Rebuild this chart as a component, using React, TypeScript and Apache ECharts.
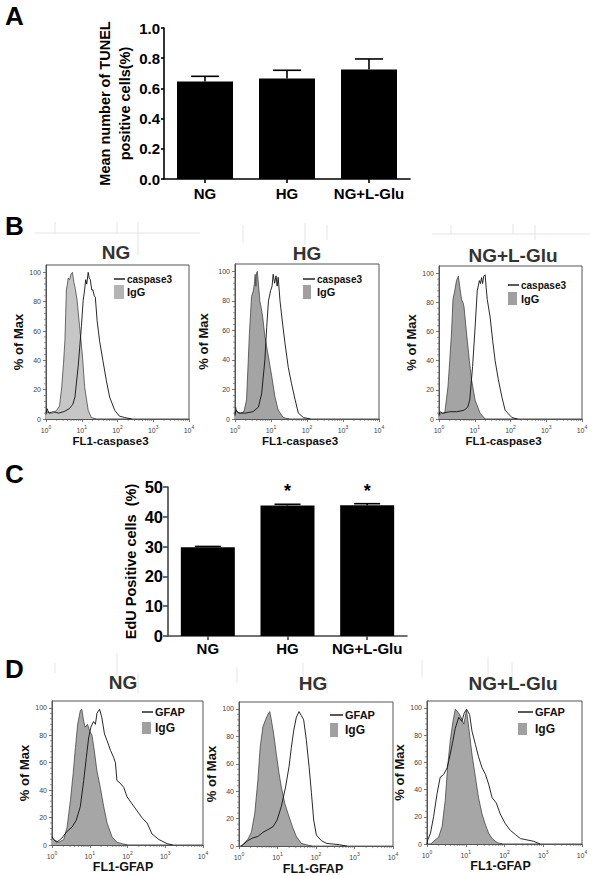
import React, { useEffect, useRef } from 'react';
import * as echarts from 'echarts';

const FONT = '"Liberation Sans", Arial, Helvetica, sans-serif';

// ---------- bar data ----------
const GROUPS = ['NG', 'HG', 'NG+L-Glu'];
const TUNEL_MEAN = [0.645, 0.665, 0.725];
const TUNEL_SEM = [0.035, 0.055, 0.07];
const TUNEL_TICKS = { min: 0, max: 1, interval: 0.2 };
const EDU_MEAN = [29.8, 43.8, 43.9];
const EDU_SEM = [0.25, 0.4, 0.5];
const EDU_SIG = ['', '*', '*'];
const EDU_TICKS = { min: 0, max: 50, interval: 10 };

// ---------- flow axes ----------
const FLOW_Y_TICKS = [0, 20, 40, 60, 80, 100];
const FLOW_Y_MINOR = [4, 8, 12, 16, 24, 28, 32, 36, 44, 48, 52, 56, 64, 68, 72, 76, 84, 88, 92, 96];
const FLOW_DECADES = [0, 1, 2, 3];
const MINOR_MULTIPLIERS = [2, 3, 4, 5, 6, 7, 8, 9];

// ---------- histograms: [log10(FL1), % of Max] ----------
const B_NG_IGG = [[0, 3], [0.05, 5], [0.11, 4], [0.2, 4], [0.3, 6], [0.38, 9], [0.44, 22], [0.49, 38], [0.53, 54], [0.57, 88], [0.6, 92], [0.62, 96], [0.66, 95], [0.7, 99], [0.74, 100], [0.78, 93], [0.81, 90], [0.87, 81], [0.94, 63], [1.02, 43], [1.08, 22], [1.18, 6], [1.27, 1], [1.4, 0]];
const B_NG_CASP = [[0, 4], [0.03, 7], [0.08, 4], [0.2, 5], [0.35, 4], [0.5, 5], [0.65, 7], [0.75, 10], [0.81, 15], [0.9, 36], [0.99, 63], [1.04, 81], [1.08, 88], [1.11, 95], [1.14, 92], [1.18, 100], [1.21, 96], [1.24, 95], [1.28, 88], [1.31, 88], [1.35, 84], [1.38, 83], [1.43, 67], [1.5, 53], [1.59, 40], [1.69, 26], [1.78, 15], [1.92, 6], [2.05, 2], [2.2, 1], [2.4, 0]];
const B_HG_IGG = [[0, 2], [0.02, 8], [0.05, 5], [0.15, 4], [0.25, 5], [0.32, 13], [0.36, 35], [0.4, 58], [0.46, 83], [0.51, 87], [0.54, 92], [0.56, 98], [0.58, 90], [0.6, 99], [0.62, 100], [0.65, 92], [0.69, 80], [0.73, 75], [0.77, 69], [0.83, 56], [0.93, 42], [1.02, 29], [1.11, 15], [1.2, 6], [1.34, 1], [1.5, 0]];
const B_HG_CASP = [[0, 3], [0.03, 6], [0.1, 4], [0.3, 4], [0.5, 5], [0.65, 8], [0.74, 17], [0.83, 40], [0.88, 62], [0.93, 80], [0.99, 87], [1.03, 90], [1.06, 98], [1.1, 92], [1.14, 97], [1.17, 90], [1.2, 96], [1.25, 80], [1.32, 65], [1.39, 51], [1.48, 35], [1.57, 24], [1.67, 13], [1.76, 4], [1.9, 1], [2.1, 0]];
const B_LG_IGG = [[0, 2], [0.05, 4], [0.16, 4], [0.25, 22], [0.3, 40], [0.35, 59], [0.39, 82], [0.44, 88], [0.49, 95], [0.54, 98], [0.58, 91], [0.63, 82], [0.67, 80], [0.7, 77], [0.77, 59], [0.85, 40], [0.91, 27], [1.01, 13], [1.15, 4], [1.29, 0]];
const B_LG_CASP = [[0, 3], [0.03, 5], [0.1, 4], [0.3, 5], [0.5, 5], [0.7, 6], [0.8, 8], [0.86, 13], [0.94, 36], [1.01, 63], [1.07, 88], [1.13, 95], [1.16, 93], [1.19, 97], [1.22, 93], [1.25, 98], [1.29, 99], [1.32, 90], [1.35, 82], [1.43, 70], [1.5, 54], [1.57, 40], [1.66, 27], [1.76, 15], [1.85, 6], [2.04, 1], [2.2, 0]];

const D_NG_IGG = [[0, 6], [0.04, 4], [0.18, 2], [0.31, 4], [0.4, 13], [0.49, 33], [0.56, 52], [0.62, 71], [0.68, 88], [0.75, 98], [0.79, 99], [0.84, 90], [0.88, 86], [0.94, 88], [1.0, 83], [1.06, 80], [1.12, 69], [1.19, 54], [1.28, 42], [1.37, 28], [1.46, 16], [1.59, 6], [1.72, 2], [1.85, 1], [2.0, 0]];
const D_NG_GFAP = [[0, 6], [0.04, 4], [0.13, 2], [0.26, 5], [0.4, 10], [0.53, 13], [0.64, 18], [0.75, 28], [0.84, 47], [0.91, 64], [0.97, 78], [1.03, 86], [1.1, 90], [1.15, 88], [1.19, 96], [1.26, 99], [1.32, 93], [1.39, 81], [1.46, 76], [1.55, 69], [1.63, 64], [1.68, 60], [1.72, 47], [1.81, 45], [1.9, 42], [1.99, 35], [2.12, 30], [2.25, 25], [2.38, 20], [2.52, 16], [2.65, 8], [2.83, 4], [3.05, 1], [3.2, 0]];
const D_HG_IGG = [[0.05, 0], [0.1, 1], [0.23, 5], [0.32, 10], [0.41, 24], [0.49, 48], [0.55, 72], [0.62, 87], [0.69, 92], [0.75, 96], [0.8, 98], [0.84, 92], [0.9, 82], [0.97, 67], [1.04, 53], [1.1, 43], [1.19, 31], [1.27, 24], [1.39, 14], [1.49, 7], [1.62, 2], [1.75, 1], [1.9, 0]];
const D_HG_GFAP = [[0.05, 0], [0.1, 1], [0.23, 4], [0.36, 6], [0.49, 7], [0.62, 10], [0.75, 12], [0.88, 14], [0.99, 19], [1.1, 29], [1.21, 43], [1.3, 58], [1.36, 72], [1.42, 84], [1.49, 94], [1.56, 98], [1.62, 95], [1.68, 92], [1.75, 77], [1.82, 58], [1.88, 39], [1.94, 19], [2.01, 8], [2.14, 4], [2.27, 2], [2.61, 1], [2.8, 0]];
const D_LG_IGG = [[0.1, 0], [0.17, 2], [0.3, 5], [0.39, 13], [0.47, 32], [0.53, 56], [0.6, 76], [0.67, 90], [0.73, 99], [0.82, 96], [0.88, 93], [0.95, 88], [1.02, 98], [1.08, 85], [1.16, 66], [1.25, 49], [1.33, 34], [1.42, 22], [1.51, 14], [1.59, 8], [1.68, 4], [1.81, 1], [1.95, 0]];
const D_LG_GFAP = [[0, 0], [0.02, 3], [0.09, 8], [0.17, 20], [0.26, 37], [0.34, 49], [0.43, 51], [0.52, 56], [0.6, 66], [0.67, 76], [0.73, 85], [0.82, 93], [0.9, 90], [0.96, 96], [1.02, 99], [1.1, 95], [1.16, 83], [1.25, 73], [1.33, 64], [1.42, 56], [1.51, 51], [1.59, 44], [1.68, 34], [1.79, 30], [1.89, 22], [2.02, 15], [2.15, 10], [2.28, 7], [2.41, 4], [2.58, 3], [2.75, 2], [2.92, 0]];

type Flow = {
  grid: { left: number; top: number; width: number; height: number };
  title: string; tx: number; ty: number;
  xName: string; xNameSize: number; xNameGap: number; xShift: number;
  yGap: number;
  marker: string; igg: number[][]; mk: number[][]; fill: string; legFill: string;
  leg: { x: number; y: number; lw: number; rw: number; rh: number; rdy: number; fs: number };
};

const FLOWS: Flow[] = [
  { grid: { left: 46, top: 265, width: 143, height: 154 }, title: 'NG', tx: 116, ty: 252, xName: 'FL1-caspase3', xNameSize: 11.5, xNameGap: 12, xShift: 14, yGap: 21, marker: 'caspase3', igg: B_NG_IGG, mk: B_NG_CASP, fill: '#c6c6c6', legFill: '#b4b4b4', leg: { x: 114, y: 279, lw: 11, rw: 10, rh: 14, rdy: 6, fs: 10 } },
  { grid: { left: 235, top: 264, width: 144, height: 155 }, title: 'HG', tx: 307, ty: 253, xName: 'FL1-caspase3', xNameSize: 11.5, xNameGap: 12, xShift: 14, yGap: 25, marker: 'caspase3', igg: B_HG_IGG, mk: B_HG_CASP, fill: '#a4a4a4', legFill: '#a0a0a0', leg: { x: 303, y: 279, lw: 12, rw: 8, rh: 14, rdy: 6, fs: 10 } },
  { grid: { left: 439, top: 266, width: 143, height: 153 }, title: 'NG+L-Glu', tx: 513, ty: 255, xName: 'FL1-caspase3', xNameSize: 11.5, xNameGap: 12, xShift: 14, yGap: 19, marker: 'caspase3', igg: B_LG_IGG, mk: B_LG_CASP, fill: '#a4a4a4', legFill: '#a0a0a0', leg: { x: 508, y: 285, lw: 11, rw: 9, rh: 13, rdy: 7, fs: 10 } },
  { grid: { left: 52, top: 701, width: 151, height: 144 }, title: 'NG', tx: 123, ty: 682, xName: 'FL1-GFAP', xNameSize: 12.5, xNameGap: 13, xShift: 9, yGap: 20, marker: 'GFAP', igg: D_NG_IGG, mk: D_NG_GFAP, fill: '#a6a6a6', legFill: '#a0a0a0', leg: { x: 142, y: 712, lw: 11, rw: 9, rh: 12, rdy: 10, fs: 11 } },
  { grid: { left: 239, top: 702, width: 154, height: 145 }, title: 'HG', tx: 313, ty: 683, xName: 'FL1-GFAP', xNameSize: 12.5, xNameGap: 13, xShift: 6, yGap: 14, marker: 'GFAP', igg: D_HG_IGG, mk: D_HG_GFAP, fill: '#a6a6a6', legFill: '#a0a0a0', leg: { x: 330, y: 715, lw: 13, rw: 8, rh: 14, rdy: 8, fs: 11 } },
  { grid: { left: 427, top: 701, width: 155, height: 143 }, title: 'NG+L-Glu', tx: 513, ty: 683, xName: 'FL1-GFAP', xNameSize: 12.5, xNameGap: 13, xShift: 8, yGap: 15, marker: 'GFAP', igg: D_LG_IGG, mk: D_LG_GFAP, fill: '#a6a6a6', legFill: '#a0a0a0', leg: { x: 518, y: 712, lw: 15, rw: 9, rh: 12, rdy: 11, fs: 11 } },
];

function buildOption() {
  const grid: any[] = [];
  const xAxis: any[] = [];
  const yAxis: any[] = [];
  const series: any[] = [];
  const graphic: any[] = [];

  const errorSeries = (gi: number, mean: number[], sem: number[], half: number, color: string) => ({
    type: 'custom', xAxisIndex: gi, yAxisIndex: gi, silent: true, z: 5,
    data: mean.map((m, i) => [i, m, sem[i]]),
    renderItem: (_p: any, api: any) => {
      const x = api.value(0), m = api.value(1), e = api.value(2);
      const base = api.coord([x, m]);
      const top = api.coord([x, m + e]);
      const st = { stroke: color, lineWidth: 1.6 };
      return {
        type: 'group', children: [
          { type: 'line', shape: { x1: base[0], y1: base[1], x2: top[0], y2: top[1] }, style: st },
          { type: 'line', shape: { x1: top[0] - half, y1: top[1], x2: top[0] + half, y2: top[1] }, style: st },
        ],
      };
    },
  });

  const barPanel = (gi: number, rect: any, cfg: any) => {
    grid.push({ ...rect });
    const axisLine = { show: true, lineStyle: { color: cfg.axisColor, width: 1.6 } };
    xAxis.push({
      gridIndex: gi, type: 'category', data: GROUPS, axisLine,
      axisTick: { show: true, alignWithLabel: true, interval: 0, length: 4, lineStyle: { color: cfg.axisColor, width: 1.6 } },
      axisLabel: { interval: 0, color: '#000', fontWeight: 'bold', fontSize: 15, fontFamily: FONT, margin: cfg.xMargin },
      splitLine: { show: false },
    });
    yAxis.push({
      gridIndex: gi, type: 'value', min: cfg.ticks.min, max: cfg.ticks.max, interval: cfg.ticks.interval,
      name: cfg.name, nameLocation: 'middle', nameRotate: 90, nameGap: cfg.nameGap,
      nameTextStyle: { color: '#000', fontWeight: 'bold', fontSize: cfg.nameSize, fontFamily: FONT, lineHeight: 20 },
      axisLine, axisTick: { show: true, length: cfg.tickLen, lineStyle: { color: cfg.axisColor, width: 1.6 } },
      axisLabel: { color: '#000', fontWeight: 'bold', fontSize: cfg.labelSize, fontFamily: FONT, margin: cfg.labelMargin, formatter: cfg.fmt },
      splitLine: { show: false },
    });
    series.push({
      type: 'bar', xAxisIndex: gi, yAxisIndex: gi, barWidth: cfg.barWidth, silent: true,
      itemStyle: { color: '#000' },
      data: cfg.mean.map((v: number, i: number) => ({
        value: v,
        label: cfg.sig && cfg.sig[i] ? { show: true, position: 'top', distance: 5, formatter: cfg.sig[i], color: '#000', fontSize: 18, fontWeight: 'bold', fontFamily: FONT } : { show: false },
      })),
    });
    series.push(errorSeries(gi, cfg.mean, cfg.sem, cfg.cap, '#000'));
  };

  const xMinor: number[] = [];
  FLOW_DECADES.forEach((d) => MINOR_MULTIPLIERS.forEach((k) => xMinor.push(d + Math.log10(k))));

  const flowPanel = (gi: number, f: Flow) => {
    grid.push({ ...f.grid, show: true, borderColor: '#555', borderWidth: 1, backgroundColor: '#fff' });
    const axisLine = { show: true, lineStyle: { color: '#555', width: 1 } };
    xAxis.push({
      gridIndex: gi, type: 'value', min: 0, max: 4, interval: 1,
      name: f.xName, nameLocation: 'middle', nameGap: f.xNameGap,
      nameTextStyle: { color: '#111', fontWeight: 'bold', fontSize: f.xNameSize, fontFamily: FONT, padding: [0, f.xShift, 0, 0] },
      axisLine, axisTick: { show: true, length: 3, lineStyle: { color: '#555', width: 0.8 } },
      axisLabel: {
        margin: 5, formatter: (v: number) => `{b|10}{s|${v}}`,
        rich: {
          b: { fontSize: 7, color: '#444', fontFamily: FONT, lineHeight: 10, verticalAlign: 'bottom' },
          s: { fontSize: 5, color: '#444', fontFamily: FONT, lineHeight: 6, verticalAlign: 'top' },
        },
      },
      splitLine: { show: false },
    });
    yAxis.push({
      gridIndex: gi, type: 'value', min: 0, max: 105,
      name: '% of Max', nameLocation: 'middle', nameRotate: 90, nameGap: f.yGap,
      nameTextStyle: { color: '#111', fontWeight: 'bold', fontSize: 13, fontFamily: FONT },
      axisLine,
      axisTick: { show: true, length: 3, customValues: FLOW_Y_TICKS, lineStyle: { color: '#555', width: 0.8 } },
      axisLabel: { color: '#444', fontSize: 7, fontFamily: FONT, margin: 5, customValues: FLOW_Y_TICKS },
      splitLine: { show: false },
    });
    series.push({
      type: 'line', name: 'IgG', xAxisIndex: gi, yAxisIndex: gi, data: f.igg, symbol: 'none', silent: true, z: 2,
      lineStyle: { color: '#333', width: 0.7 }, itemStyle: { color: f.fill }, areaStyle: { color: f.fill, opacity: 1 },
    });
    series.push({
      type: 'line', name: f.marker, xAxisIndex: gi, yAxisIndex: gi, data: f.mk, symbol: 'none', silent: true, z: 3,
      lineStyle: { color: '#111', width: 0.9 }, itemStyle: { color: '#111' },
    });
    series.push({
      type: 'custom', xAxisIndex: gi, yAxisIndex: gi, silent: true, z: 4,
      data: [...xMinor.map((v) => [v, 0]), ...FLOW_Y_MINOR.map((v) => [v, 1])],
      renderItem: (_p: any, api: any) => {
        const v = api.value(0), k = api.value(1);
        const st = { stroke: '#555', lineWidth: 0.6 };
        if (k === 0) {
          const p = api.coord([v, 0]);
          return { type: 'line', shape: { x1: p[0], y1: p[1], x2: p[0], y2: p[1] + 2 }, style: st };
        }
        const p = api.coord([0, v]);
        return { type: 'line', shape: { x1: p[0] - 2, y1: p[1], x2: p[0], y2: p[1] }, style: st };
      },
    });
    // title
    graphic.push({ type: 'text', x: f.tx, y: f.ty, style: { text: f.title, fill: '#333', font: `bold 19px ${FONT}`, align: 'center', verticalAlign: 'middle' } });
    // legend
    const L = f.leg;
    graphic.push({
      type: 'group', x: L.x, y: L.y, children: [
        { type: 'line', shape: { x1: 0, y1: 0, x2: L.lw, y2: 0 }, style: { stroke: '#000', lineWidth: 1.3 } },
        { type: 'text', x: L.lw + 2, y: 0, style: { text: f.marker, fill: '#111', font: `bold ${L.fs}px ${FONT}`, verticalAlign: 'middle' } },
        { type: 'rect', shape: { x: 0, y: L.rdy, width: L.rw, height: L.rh }, style: { fill: f.legFill } },
        { type: 'text', x: L.lw + 2, y: L.rdy + L.rh / 2, style: { text: 'IgG', fill: '#111', font: `bold ${L.fs + 1}px ${FONT}`, verticalAlign: 'middle' } },
      ],
    });
  };

  // A
  barPanel(0, { left: 164, top: 28, width: 246, height: 151 }, {
    axisColor: '#000', ticks: TUNEL_TICKS, name: 'Mean number of TUNEL\npositive cells(%)', nameGap: 24, nameSize: 14.5,
    tickLen: 3, labelSize: 15, labelMargin: 4, fmt: (v: number) => v.toFixed(1), barWidth: 56, mean: TUNEL_MEAN, sem: TUNEL_SEM, cap: 14, xMargin: 7,
  });
  // B
  flowPanel(1, FLOWS[0]);
  flowPanel(2, FLOWS[1]);
  flowPanel(3, FLOWS[2]);
  // C
  barPanel(4, { left: 168, top: 487, width: 239, height: 149 }, {
    axisColor: '#444', ticks: EDU_TICKS, name: 'EdU Positive cells  (%)', nameGap: 25, nameSize: 14.5,
    tickLen: 5, labelSize: 16.5, labelMargin: 5, fmt: (v: number) => String(v), barWidth: 54, mean: EDU_MEAN, sem: EDU_SEM, sig: EDU_SIG, cap: 13, xMargin: 5,
  });
  // D
  flowPanel(5, FLOWS[3]);
  flowPanel(6, FLOWS[4]);
  flowPanel(7, FLOWS[5]);

  // panel letters
  [['A', 5, 16], ['B', 5, 226], ['C', 5, 474], ['D', 5, 669]].forEach(([t, x, y]) => {
    graphic.push({ type: 'text', x, y, style: { text: t, fill: '#000', font: `bold 26px ${FONT}`, verticalAlign: 'middle' } });
  });

  // faint scan artefacts above the flow panels
  const faint = { stroke: '#e4e4e4', lineWidth: 1 };
  const faintLines = [
    [35, 233, 200, 233], [55, 222, 55, 233], [117, 222, 117, 233], [138, 222, 138, 255],
    [243, 225, 243, 243], [305, 223, 305, 245], [327, 225, 327, 240],
    [432, 234, 590, 234], [451, 225, 451, 234], [513, 224, 513, 234], [535, 225, 535, 240],
    [55, 663, 55, 673], [117, 653, 117, 677], [138, 673, 138, 693],
    [237, 667, 237, 683], [303, 663, 303, 683], [327, 677, 327, 693],
    [422, 660, 422, 677], [488, 657, 488, 677], [512, 662, 512, 682],
  ];
  faintLines.forEach(([x1, y1, x2, y2]) => graphic.push({ type: 'line', silent: true, z: -1, shape: { x1, y1, x2, y2 }, style: faint }));

  return {
    animation: false,
    backgroundColor: '#fff',
    textStyle: { fontFamily: FONT },
    grid, xAxis, yAxis, series, graphic,
  };
}

export default function App() {
  const ref = useRef<HTMLDivElement>(null);
  useEffect(() => {
    if (!ref.current) return;
    const chart = echarts.init(ref.current, null, { renderer: 'svg' });
    chart.setOption(buildOption() as any);
    return () => chart.dispose();
  }, []);
  return <div ref={ref} style={{ position: 'absolute', left: 0, top: 0, width: 603, height: 876 }} />;
}
